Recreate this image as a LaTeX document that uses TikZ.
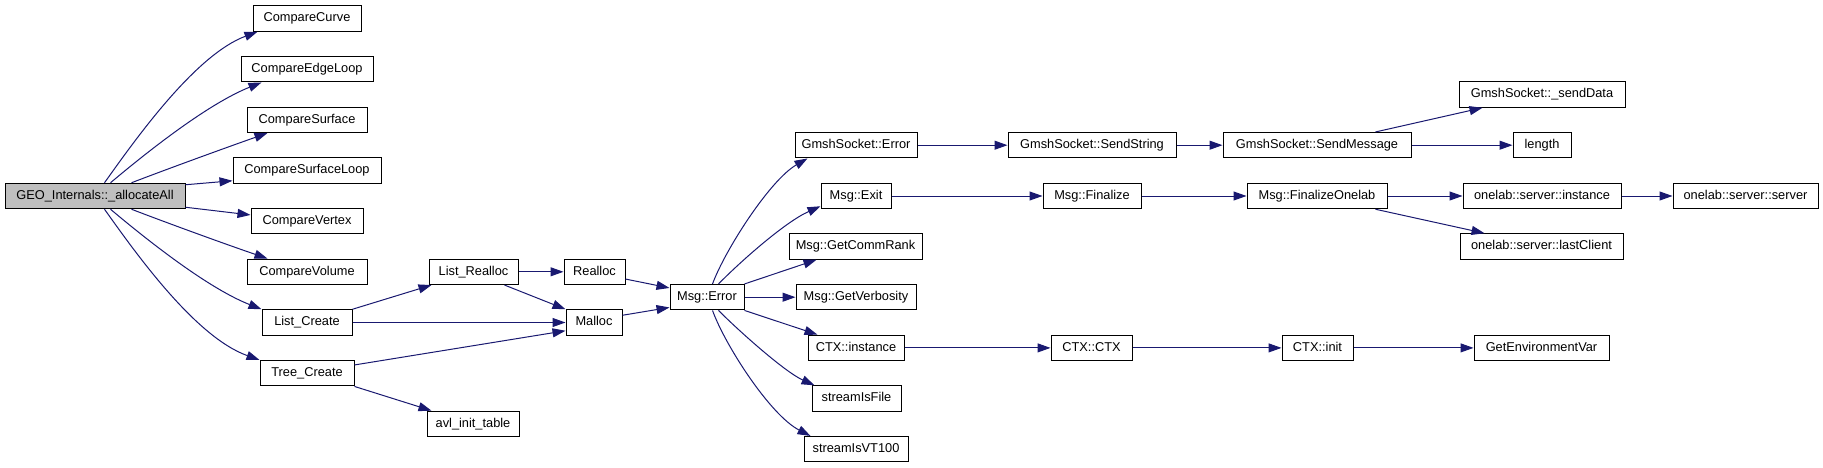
\documentclass[tikz,border=0pt]{standalone}
\usepackage{fontspec}
\setmainfont{Liberation Sans}
\usetikzlibrary{arrows.meta}
\definecolor{edgecol}{HTML}{191970}
\definecolor{rootfill}{HTML}{BFBFBF}
\tikzset{
  box/.style={draw=black, line width=1pt, fill=white, inner sep=0pt, minimum height=25.5pt,
    text height=9.2pt, text depth=2.7pt, font=\fontsize{12.8}{14}\selectfont},
  edge/.style={draw=edgecol, line width=1pt, -{Triangle[length=13pt,width=9pt]}}
}
\begin{document}
\begin{tikzpicture}[x=1pt,y=-1pt]
\useasboundingbox (0,0) rectangle (1823,468);
% nodes
\node[box,minimum width=180pt,fill=rootfill] (all) at (95,196) {GEO\_Internals::\_allocateAll};
\node[box,minimum width=108pt] (cc) at (307,18.5) {CompareCurve};
\node[box,minimum width=132pt] (cel) at (307,69.2) {CompareEdgeLoop};
\node[box,minimum width=120pt] (cs) at (307,119.8) {CompareSurface};
\node[box,minimum width=148pt] (csl) at (307,170.5) {CompareSurfaceLoop};
\node[box,minimum width=112pt] (cv) at (307,221.2) {CompareVertex};
\node[box,minimum width=120pt] (cvol) at (307,271.8) {CompareVolume};
\node[box,minimum width=90pt] (lc) at (307,322.5) {List\_Create};
\node[box,minimum width=94pt] (tc) at (307,373.2) {Tree\_Create};
\node[box,minimum width=89pt] (lr) at (473.5,271.8) {List\_Realloc};
\node[box,minimum width=61pt] (ra) at (594.5,271.8) {Realloc};
\node[box,minimum width=56pt] (ma) at (594,322.5) {Malloc};
\node[box,minimum width=92pt] (avl) at (473,423.9) {avl\_init\_table};
\node[box,minimum width=74pt] (me) at (707,297.2) {Msg::Error};
\node[box,minimum width=122pt] (gse) at (856,145.2) {GmshSocket::Error};
\node[box,minimum width=70pt] (ex) at (856,196) {Msg::Exit};
\node[box,minimum width=133pt] (gcr) at (855.5,246.5) {Msg::GetCommRank};
\node[box,minimum width=120pt] (gv) at (856,297.2) {Msg::GetVerbosity};
\node[box,minimum width=96pt] (ci) at (856,347.9) {CTX::instance};
\node[box,minimum width=89pt] (sif) at (856.5,398.6) {streamIsFile};
\node[box,minimum width=104pt] (vt) at (856,449.2) {streamIsVT100};
\node[box,minimum width=168pt] (ss) at (1092,145.2) {GmshSocket::SendString};
\node[box,minimum width=188pt] (sm) at (1317,145.2) {GmshSocket::SendMessage};
\node[box,minimum width=98pt] (fin) at (1092,196) {Msg::Finalize};
\node[box,minimum width=140pt] (fo) at (1317,196) {Msg::FinalizeOnelab};
\node[box,minimum width=166pt] (sd) at (1542,94.5) {GmshSocket::\_sendData};
\node[box,minimum width=58pt] (len) at (1542,145.2) {length};
\node[box,minimum width=158pt] (si) at (1542,196) {onelab::server::instance};
\node[box,minimum width=145pt] (sv) at (1745.5,196) {onelab::server::server};
\node[box,minimum width=163pt] (lcl) at (1541.5,246.5) {onelab::server::lastClient};
\node[box,minimum width=81pt] (ctx) at (1091.5,347.9) {CTX::CTX};
\node[box,minimum width=71pt] (cinit) at (1317.5,347.9) {CTX::init};
\node[box,minimum width=135pt] (gev) at (1541.5,347.9) {GetEnvironmentVar};
% edges from root
\draw[edge] ([xshift=100pt]all.north west) .. controls (135,140) and (195,55) .. ([xshift=5pt]cc.south west);
\draw[edge] ([xshift=106pt]all.north west) .. controls (140,158) and (205,105) .. ([xshift=21pt]cel.south west);
\draw[edge] ([xshift=127pt]all.north west) .. controls (170,168) and (225,148) .. ([xshift=21pt]cs.south west);
\draw[edge] ([yshift=-2pt]all.north east) -- ([yshift=3pt]csl.south west);
\draw[edge] ([yshift=2pt]all.south east) -- ([yshift=-7pt]cv.north west);
\draw[edge] ([xshift=127pt]all.south west) .. controls (170,224) and (225,244) .. ([xshift=21pt]cvol.north west);
\draw[edge] ([xshift=106pt]all.south west) .. controls (140,234) and (205,287) .. (lc.north west);
\draw[edge] ([xshift=100pt]all.south west) .. controls (135,252) and (195,337) .. (tc.north west);
% middle
\draw[edge] (lc.north east) -- ([xshift=3pt]lr.south west);
\draw[edge] (lc.east) -- (ma.west);
\draw[edge] ([yshift=-5pt]tc.north east) -- ([yshift=5pt]ma.south west);
\draw[edge] (tc.south east) -- ([xshift=5pt]avl.north west);
\draw[edge] (lr.east) -- (ra.west);
\draw[edge] ([xshift=-14pt]lr.south east) -- (ma.north west);
\draw[edge] ([yshift=6pt]ra.south east) -- ([yshift=-4pt]me.north west);
\draw[edge] ([yshift=-6pt]ma.north east) -- ([yshift=3pt]me.south west);
% from Msg::Error
\draw[edge] ([xshift=43pt]me.north west) .. controls (725,250) and (770,180) .. ([xshift=13pt]gse.south west);
\draw[edge] ([xshift=49pt]me.north west) .. controls (740,262) and (785,222) .. ([yshift=3pt]ex.south west);
\draw[edge] (me.north east) -- ([xshift=28pt]gcr.south west);
\draw[edge] (me.east) -- (gv.west);
\draw[edge] (me.south east) -- ([xshift=10pt]ci.north west);
\draw[edge] ([xshift=49pt]me.south west) .. controls (740,332) and (785,372) .. ([xshift=3pt]sif.north west);
\draw[edge] ([xshift=43pt]me.south west) .. controls (725,345) and (770,415) .. ([xshift=7pt]vt.north west);
% right part
\draw[edge] (gse.east) -- (ss.west);
\draw[edge] (ss.east) -- (sm.west);
\draw[edge] ([xshift=-36pt]sm.north east) -- ([xshift=24pt]sd.south west);
\draw[edge] (sm.east) -- (len.west);
\draw[edge] (ex.east) -- (fin.west);
\draw[edge] (fin.east) -- (fo.west);
\draw[edge] (fo.east) -- (si.west);
\draw[edge] ([xshift=-12pt]fo.south east) -- ([xshift=25pt]lcl.north west);
\draw[edge] (si.east) -- (sv.west);
\draw[edge] (ci.east) -- (ctx.west);
\draw[edge] (ctx.east) -- (cinit.west);
\draw[edge] (cinit.east) -- (gev.west);
\end{tikzpicture}
\end{document}
